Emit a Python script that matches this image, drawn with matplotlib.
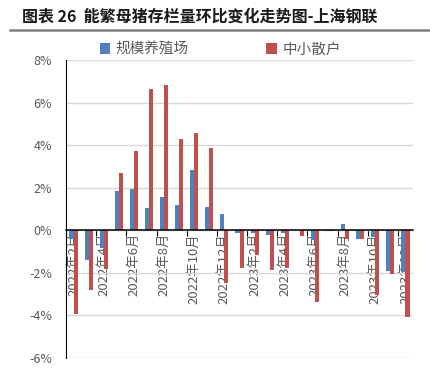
import numpy as np
import matplotlib
matplotlib.use("Agg")
import matplotlib.pyplot as plt

plt.rcParams['font.family'] = ['Noto Sans CJK SC', 'DejaVu Sans']

# ---- data (month-on-month change, %) ----
months = ['2022年2月', '2022年3月', '2022年4月', '2022年5月', '2022年6月', '2022年7月',
          '2022年8月', '2022年9月', '2022年10月', '2022年11月', '2022年12月', '2023年1月',
          '2023年2月', '2023年3月', '2023年4月', '2023年5月', '2023年6月', '2023年7月',
          '2023年8月', '2023年9月', '2023年10月', '2023年11月', '2023年12月']
large_farms = [-0.39, -1.40, -0.85, 1.84, 1.95, 1.03, 1.57, 1.18, 2.82, 1.09, 0.78, -0.12,
               -0.14, -0.22, -0.14, 0.0, -0.47, -0.02, 0.31, -0.40, -0.30, -1.90, -1.98]
small_farms = [-3.94, -2.82, -1.80, 2.68, 3.74, 6.64, 6.82, 4.28, 4.56, 3.88, -2.46, -1.77,
               -1.16, -1.88, -1.77, -0.28, -3.35, -0.05, -0.40, -0.40, -3.05, -2.05, -4.08]
series_names = ['规模养殖场', '中小散户']
y_ticks = [-6, -4, -2, 0, 2, 4, 6, 8]

blue = '#4F81BD'
red = '#C0504D'
gray_text = '#595959'

fig = plt.figure(figsize=(4.3, 3.86), dpi=100)
ax = fig.add_axes([66 / 430, 1 - 358 / 386, 347 / 430, 298 / 386])

x = np.arange(len(months))
w = 0.27
ax.bar(x - w / 2, large_farms, w, color=blue, label=series_names[0], zorder=3)
ax.bar(x + w / 2, small_farms, w, color=red, label=series_names[1], zorder=3)

ax.set_xlim(-0.5, len(months) - 0.5)
ax.set_ylim(-6, 8)
ax.set_yticks(y_ticks)
ax.set_yticklabels([f'{v}%' for v in y_ticks], color=gray_text, fontsize=9)
ax.tick_params(axis='y', length=0, pad=10)
ax.grid(axis='y', color='#D9D9D9', linewidth=1, zorder=0)

# category axis sits on the zero line
for side in ['top', 'right']:
    ax.spines[side].set_visible(False)
ax.spines['left'].set_color('black')
ax.spines['bottom'].set_position(('data', 0))
ax.spines['bottom'].set_color('black')
ax.spines['bottom'].set_zorder(4)
ax.spines['bottom'].set_linewidth(1.1)

ax.set_xticks(np.arange(-0.5, len(months), 2))
ax.set_xticklabels([])
ax.tick_params(axis='x', which='major', direction='out', length=4, color='black')
ax.set_xticks(x[::2], minor=True)
ax.set_xticklabels(months[::2], minor=True, rotation=90, fontsize=9.5, color=gray_text)
ax.tick_params(axis='x', which='minor', length=0, pad=2)

leg = ax.legend(loc='center', bbox_to_anchor=(0.445, 1.035), ncol=2, frameon=False,
                fontsize=10.5, handlelength=0.7, handleheight=0.7, handletextpad=0.4,
                columnspacing=5.3, borderaxespad=0)
for t in leg.get_texts():
    t.set_color(gray_text)

fig.text(22 / 430, 1 - 17 / 386, '图表 26  能繁母猪存栏量环比变化走势图-上海钢联',
         fontsize=11.5, fontweight='bold', va='center', ha='left', color='#1a1a1a')
fig.add_artist(plt.Line2D([10 / 430, 1.0], [1 - 30 / 386, 1 - 30 / 386],
                          color='#808080', linewidth=1.8))

fig.savefig('out.png', dpi=100)
